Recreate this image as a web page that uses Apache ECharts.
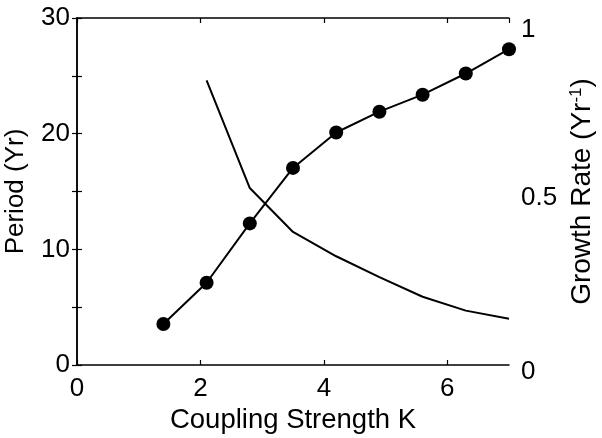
<!DOCTYPE html>
<html>
<head>
<meta charset="utf-8">
<script src="https://cdn.jsdelivr.net/npm/echarts@6/dist/echarts.min.js"></script>
<style>
html,body{margin:0;padding:0;background:#fff;}
#chart{width:602px;height:438px;}
</style>
</head>
<body>
<div id="chart"></div>
<script>
// Data
var growthK = [1.4, 2.1, 2.8, 3.5, 4.2, 4.9, 5.6, 6.3, 7.0];
var growthRate = [0.118, 0.237, 0.408, 0.568, 0.670, 0.730, 0.779, 0.840, 0.910];
var periodK = [2.1, 2.8, 3.5, 4.2, 4.9, 5.6, 6.3, 7.0];
var period = [24.6, 15.3, 11.5, 9.4, 7.6, 5.9, 4.7, 4.0];
var xTicks = [0, 2, 4, 6];
var leftTicks = [0, 10, 20, 30];
var rightTicks = [0, 0.5, 1];

var FONT = '"Liberation Sans", Arial, sans-serif';
var axisLineStyle = {color: '#000', width: 1.5};
var tickStyle = {show: true, inside: true, length: 5, lineStyle: {color: '#000', width: 1.2}};

function pairs(xs, ys) { return xs.map(function (x, i) { return [x, ys[i]]; }); }

var chart = echarts.init(document.getElementById('chart'), null, {renderer: 'canvas'});
chart.setOption({
  backgroundColor: '#fff',
  animation: false,
  grid: {left: 77, right: 93, top: 18, bottom: 73, show: false, containLabel: false, outerBoundsMode: 'none'},
  xAxis: [{
    type: 'value', min: 0, max: 7, interval: 2, position: 'bottom',
    name: 'Coupling Strength K', nameLocation: 'middle', nameGap: 30,
    nameTextStyle: {fontFamily: FONT, fontSize: 27.5, color: '#000'},
    axisLine: {show: true, lineStyle: axisLineStyle},
    axisTick: tickStyle,
    axisLabel: {fontFamily: FONT, fontSize: 26, color: '#000', margin: 11, showMaxLabel: false,
      formatter: function (v) { return xTicks.indexOf(v) >= 0 ? String(v) : ''; }},
    splitLine: {show: false}
  }, {
    type: 'value', min: 0, max: 7, interval: 2, position: 'top',
    axisLine: {show: true, onZero: false, lineStyle: axisLineStyle},
    axisTick: tickStyle,
    axisLabel: {show: false},
    splitLine: {show: false}
  }],
  yAxis: [{
    type: 'value', min: 0, max: 30, interval: 5, position: 'left',
    name: 'Period (Yr)', nameLocation: 'middle', nameGap: 48,
    nameTextStyle: {fontFamily: FONT, fontSize: 26, color: '#000'},
    axisLine: {show: true, lineStyle: axisLineStyle},
    axisTick: tickStyle,
    axisLabel: {fontFamily: FONT, fontSize: 26, color: '#000', margin: 7,
      formatter: function (v) { return leftTicks.indexOf(v) >= 0 ? String(v) : ''; }},
    splitLine: {show: false}
  }, {
    type: 'value', min: 0, max: 1, interval: 1 / 6, position: 'right',
    name: 'Growth Rate (Yr{sup|-1})', nameLocation: 'middle', nameGap: 52,
    nameTextStyle: {fontFamily: FONT, fontSize: 28, color: '#000',
      rich: {sup: {fontFamily: FONT, fontSize: 17, color: '#000', padding: [0, 0, 12, 0]}}},
    axisLine: {show: true, lineStyle: axisLineStyle},
    axisTick: tickStyle,
    axisLabel: {fontFamily: FONT, fontSize: 26, color: '#000', margin: 12,
      rich: {
        r0: {fontFamily: FONT, fontSize: 26, color: '#000', padding: [14, 0, 0, 0]},
        r5: {fontFamily: FONT, fontSize: 26, color: '#000', padding: [12, 0, 0, 0]},
        r1: {fontFamily: FONT, fontSize: 26, color: '#000', padding: [24, 0, 0, 0]}
      },
      formatter: function (v) {
        if (Math.abs(v - 0) < 1e-6) return '{r0|0}';
        if (Math.abs(v - 0.5) < 1e-6) return '{r5|0.5}';
        if (Math.abs(v - 1) < 1e-6) return '{r1|1}';
        return '';
      }},
    splitLine: {show: false}
  }],
  series: [{
    type: 'line', name: 'Period', xAxisIndex: 0, yAxisIndex: 0,
    data: pairs(periodK, period),
    showSymbol: false, symbol: 'none',
    lineStyle: {color: '#000', width: 2}
  }, {
    type: 'line', name: 'Growth Rate', xAxisIndex: 0, yAxisIndex: 1,
    data: pairs(growthK, growthRate),
    symbol: 'circle', symbolSize: 14,
    itemStyle: {color: '#000'},
    lineStyle: {color: '#000', width: 2}
  }]
});
</script>
</body>
</html>
